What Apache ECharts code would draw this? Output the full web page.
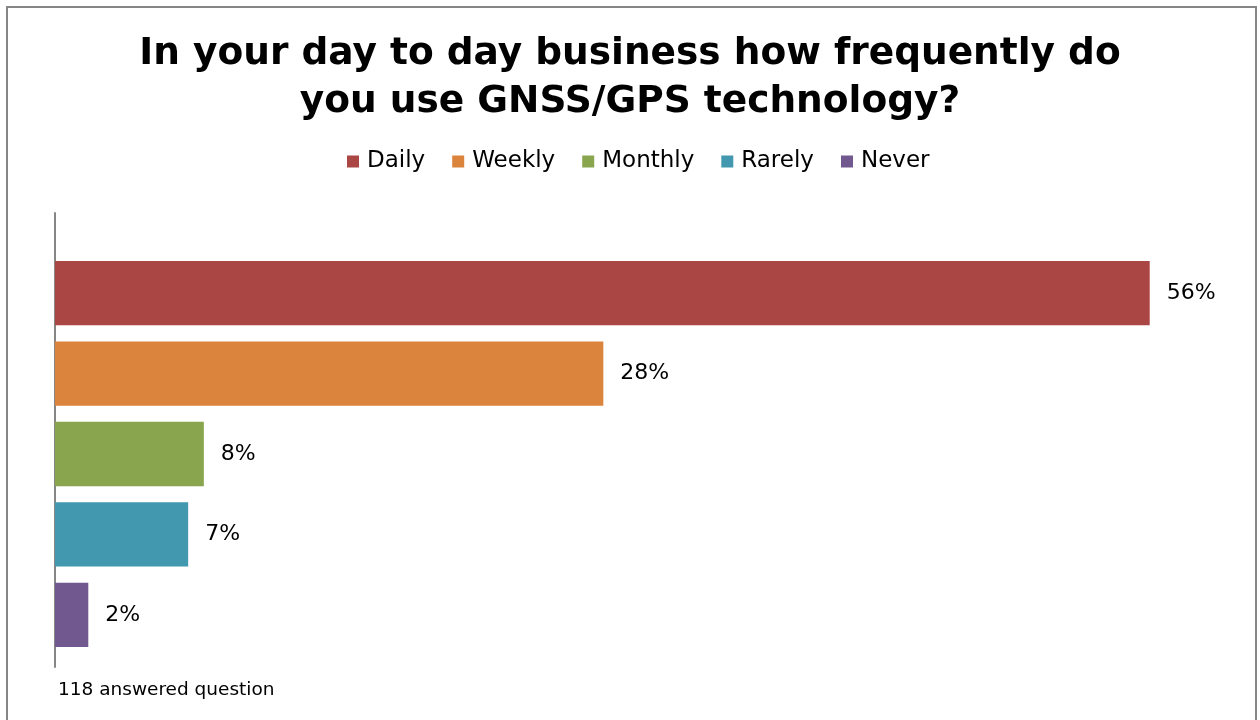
<!DOCTYPE html>
<html>
<head>
<meta charset="utf-8">
<script src="https://cdn.jsdelivr.net/npm/echarts@6/dist/echarts.min.js"></script>
<style>
html,body{margin:0;padding:0;background:#fff;}
#frame{position:absolute;left:6px;top:6px;width:1251px;height:740px;border:2px solid #868686;box-sizing:border-box;}
#chart{position:absolute;left:0;top:0;width:1260px;height:720px;}
</style>
</head>
<body>
<div id="frame"></div>
<div id="chart"></div>
<script>
const titleText = 'In your day to day business how frequently do\nyou use GNSS/GPS technology?';
const footnote = '118 answered question';
const categories = ['Daily', 'Weekly', 'Monthly', 'Rarely', 'Never'];
const values = [55.9, 28.0, 7.6, 6.8, 1.7];
const colors = ['#AA4643', '#DB843D', '#89A54E', '#4198AF', '#71588F'];

const FONT = 'DejaVu Sans, Verdana, sans-serif';

const series = categories.map((name, i) => ({
  name: name,
  type: 'bar',
  stack: 'all',
  xAxisIndex: 0,
  yAxisIndex: 0,
  barWidth: '80%',
  itemStyle: { color: colors[i] },
  label: {
    show: true,
    position: 'right',
    distance: 17,
    fontFamily: FONT,
    fontSize: 22,
    color: '#000',
    formatter: p => Math.round(p.value) + '%'
  },
  data: categories.map((c, j) => (j === i ? values[i] : '-'))
}));

const chart = echarts.init(document.getElementById('chart'), null, { renderer: 'canvas' });
chart.setOption({
  animation: false,
  backgroundColor: 'transparent',
  title: [
    {
      text: titleText,
      left: 'center',
      top: 25,
      textStyle: { fontFamily: FONT, fontSize: 37.5, fontWeight: 'bold', color: '#000', lineHeight: 48 }
    },
    {
      text: footnote,
      left: 53,
      top: 676,
      textStyle: { fontFamily: FONT, fontSize: 18.5, fontWeight: 'normal', color: '#000' }
    }
  ],
  legend: {
    data: categories,
    left: 342,
    top: 145,
    icon: 'rect',
    itemWidth: 12,
    itemHeight: 12,
    itemGap: 27,
    textStyle: { fontFamily: FONT, fontSize: 23, color: '#000', padding: [0, 0, 0, 3] }
  },
  grid: [
    { left: 55, right: 30, top: 253, height: 402 },
    { left: 55, right: 30, top: 213, height: 454 }
  ],
  xAxis: [
    { type: 'value', gridIndex: 0, min: 0, max: 60, show: false },
    { type: 'value', gridIndex: 1, min: 0, max: 60, show: false }
  ],
  yAxis: [
    { type: 'category', gridIndex: 0, inverse: true, data: categories, show: false },
    {
      type: 'category', gridIndex: 1, data: [''],
      axisLine: { show: true, lineStyle: { color: '#868686', width: 2 } },
      axisTick: { show: false }, axisLabel: { show: false }, splitLine: { show: false }
    }
  ],
  series: series
});
</script>
</body>
</html>
